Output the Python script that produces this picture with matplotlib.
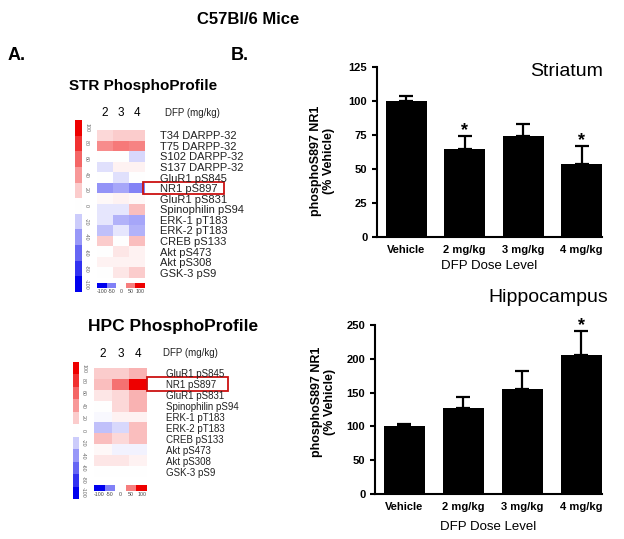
import numpy as np
import matplotlib
matplotlib.use('Agg')
import matplotlib.pyplot as plt
from matplotlib.colors import LinearSegmentedColormap
from matplotlib.patches import Rectangle
import matplotlib.transforms as mtransforms

plt.rcParams['font.family'] = ['Liberation Sans', 'DejaVu Sans']

W, H = 624, 539

# ---------------- data ----------------
doses = ["Vehicle", "2 mg/kg", "3 mg/kg", "4 mg/kg"]
str_mean = [100, 65, 74, 54]
str_sem = [4, 9, 9, 13]
str_sig = [False, True, False, True]
hpc_mean = [100, 127, 155, 205]
hpc_sem = [4, 16, 27, 36]
hpc_sig = [False, False, False, True]

dfp_cols = ["2", "3", "4"]
str_rows = ["T34 DARPP-32", "T75 DARPP-32", "S102 DARPP-32", "S137 DARPP-32",
            "GluR1 pS845", "NR1 pS897", "GluR1 pS831", "Spinophilin pS94",
            "ERK-1 pT183", "ERK-2 pT183", "CREB pS133", "Akt pS473",
            "Akt pS308", "GSK-3 pS9"]
str_vals = [[15, 20, 20],
            [45, 52, 48],
            [0, 0, -15],
            [-12, 5, 5],
            [0, -12, 0],
            [-42, -35, -48],
            [3, 5, 3],
            [-10, -10, 25],
            [-10, -30, -35],
            [-25, -10, -30],
            [20, 0, 25],
            [0, 10, 5],
            [5, 5, 5],
            [0, 10, 20]]
hpc_rows = ["GluR1 pS845", "NR1 pS897", "GluR1 pS831", "Spinophilin pS94",
            "ERK-1 pT183", "ERK-2 pT183", "CREB pS133", "Akt pS473",
            "Akt pS308", "GSK-3 pS9"]
hpc_vals = [[20, 20, 30],
            [25, 55, 100],
            [10, 15, 30],
            [0, 15, 30],
            [-3, 5, 5],
            [-25, -15, 25],
            [25, 15, 25],
            [3, -5, -5],
            [10, 10, 5],
            [0, 0, 0]]
scale_levels = [100, 80, 60, 40, 20, 0, -20, -40, -60, -80, -100]
key_levels = [-100, -50, 0, 50, 100]
highlight = "NR1 pS897"

cmap = LinearSegmentedColormap.from_list('bwr2', ['#0000ee', '#ffffff', '#ee0000'])

fig = plt.figure(figsize=(W / 100, H / 100), dpi=100)


def px_axes(x0, y0, x1, y1):
    return fig.add_axes([x0 / W, 1 - y1 / H, (x1 - x0) / W, (y1 - y0) / H])


def ftext(x, y, s, **kw):
    fig.text(x / W, 1 - y / H, s, **kw)


def heatmap(box, rows, vals, row_fs, row_pad, col_pad, hl_x, hl_h, dfp_xy):
    ax = px_axes(*box)
    ax.imshow(np.array(vals), cmap=cmap, vmin=-100, vmax=100,
              aspect='auto', interpolation='nearest')
    ax.set_xticks(range(len(dfp_cols)))
    ax.set_xticklabels(dfp_cols, fontsize=8.5)
    ax.xaxis.tick_top()
    ax.set_yticks(range(len(rows)))
    ax.set_yticklabels(rows, fontsize=row_fs, color='#222222')
    ax.yaxis.tick_right()
    ax.tick_params(axis='x', length=0, pad=col_pad)
    ax.tick_params(axis='y', length=0, pad=row_pad)
    for s in ax.spines.values():
        s.set_visible(False)
    i = rows.index(highlight)
    trans = mtransforms.blended_transform_factory(ax.transAxes, ax.transData)
    ax.add_patch(Rectangle((hl_x[0], i - hl_h), hl_x[1] - hl_x[0], 2 * hl_h,
                           transform=trans, fill=False, ec='#cc1111',
                           lw=1.3, clip_on=False))
    ftext(dfp_xy[0], dfp_xy[1], "DFP (mg/kg)", fontsize=7,
          ha='left', va='center', color='#222222')
    return ax


def vscale(box):
    ax = px_axes(*box)
    ax.imshow(np.array(scale_levels)[:, None], cmap=cmap, vmin=-100, vmax=100,
              aspect='auto', interpolation='nearest')
    ax.set_xticks([])
    ax.set_yticks(range(len(scale_levels)))
    ax.set_yticklabels([str(v) for v in scale_levels], fontsize=3.8,
                       rotation=270, va='center', color='#666666')
    ax.yaxis.tick_right()
    ax.tick_params(axis='y', length=0, pad=1.5)
    for s in ax.spines.values():
        s.set_visible(False)


def hkey(box):
    ax = px_axes(*box)
    ax.imshow(np.array(key_levels)[None, :], cmap=cmap, vmin=-100, vmax=100,
              aspect='auto', interpolation='nearest')
    ax.set_yticks([])
    ax.set_xticks(range(len(key_levels)))
    ax.set_xticklabels([str(v) for v in key_levels], fontsize=3.8, color='#444444')
    ax.tick_params(axis='x', length=0, pad=1)
    for s in ax.spines.values():
        s.set_visible(False)


# ---------- titles ----------
ftext(248, 19, "C57Bl/6 Mice", fontsize=12, fontweight='bold', ha='center', va='center')
ftext(8, 56, "A.", fontsize=13, fontweight='bold', ha='left', va='center')
ftext(231, 56, "B.", fontsize=13, fontweight='bold', ha='left', va='center')
ftext(143, 86, "STR PhosphoProfile", fontsize=11, fontweight='bold', ha='center', va='center')
ftext(173, 326, "HPC PhosphoProfile", fontsize=12.5, fontweight='bold', ha='center', va='center')

# ---------- heatmaps ----------
heatmap((97, 130, 145, 278), str_rows, str_vals, 8, 11, 8,
        (0.96, 2.65), 0.57, (165, 113))
vscale((75, 120, 82, 292))
hkey((97, 283, 145, 288))

heatmap((94, 368, 147, 477), hpc_rows, hpc_vals, 7, 14, 6,
        (1.0, 2.53), 0.64, (163, 353))
vscale((73, 362, 79, 499))
hkey((94, 485, 147, 491))


# ---------- bar charts ----------
def barplot(box, mean, sem, sig, ymax, ystep, title, title_xy, ylab_xy, xlab_y):
    ax = px_axes(*box)
    x = np.arange(len(doses))
    ax.bar(x, mean, width=0.7, color='black', zorder=2)
    ax.errorbar(x, mean, yerr=[np.zeros(len(sem)), sem], fmt='none',
                ecolor='black', elinewidth=1.6, capsize=4.7, capthick=1.6, zorder=1)
    for xi, m, s, g in zip(x, mean, sem, sig):
        if g:
            ax.annotate('*', (xi, m + s), xytext=(0, 4), textcoords='offset points',
                        ha='center', va='center', fontsize=13, fontweight='bold')
    ax.set_xlim(-0.5, 3.35)
    ax.set_ylim(0, ymax)
    ax.set_yticks(np.arange(0, ymax + 1, ystep))
    ax.set_xticks(x)
    ax.set_xticklabels(doses)
    for s in ['top', 'right']:
        ax.spines[s].set_visible(False)
    for s in ['left', 'bottom']:
        ax.spines[s].set_linewidth(1.5)
    ax.tick_params(axis='both', direction='out', length=3.5, width=1.5, labelsize=8)
    ax.tick_params(axis='x', length=0, pad=6)
    for lab in ax.get_xticklabels() + ax.get_yticklabels():
        lab.set_fontweight('bold')
    ax.set_ylabel("phosphoS897 NR1\n(% Vehicle)", fontsize=9, fontweight='bold',
                  linespacing=1.1)
    ax.yaxis.set_label_coords(*ylab_xy)
    ax.set_xlabel("DFP Dose Level", fontsize=9.5)
    ax.xaxis.set_label_coords(0.5, xlab_y)
    ftext(title_xy[0], title_xy[1], title, fontsize=14, ha='right', va='center')
    return ax


barplot((377, 67, 602, 237), str_mean, str_sem, str_sig, 125, 25,
        "Striatum", (603, 71), (-0.187, 0.45), -0.133)
barplot((375, 325, 602, 494), hpc_mean, hpc_sem, hpc_sig, 250, 50,
        "Hippocampus", (608, 298), (-0.172, 0.544), -0.162)

fig.savefig('out.png', dpi=100)
